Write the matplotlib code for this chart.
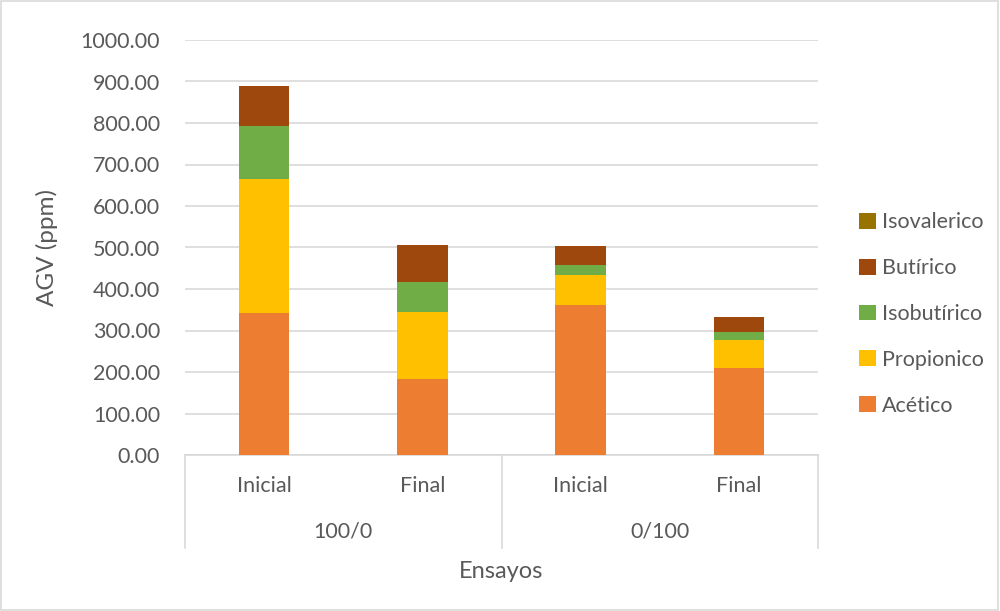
import matplotlib
matplotlib.use("Agg")
import matplotlib.pyplot as plt
from matplotlib.patches import Rectangle

plt.rcParams['font.family'] = ['Lato', 'DejaVu Sans']

# Data
sub_labels = ["Inicial", "Final", "Inicial", "Final"]
group_labels = ["100/0", "0/100"]
acetico = [342, 184, 362, 210]
propionico = [323, 161, 72, 68]
isobutirico = [127, 71, 23, 18]
butirico = [98, 91, 47, 36]
isovalerico = [0, 0, 0, 0]

series = [
    ("Acético", acetico, "#ED7D31"),
    ("Propionico", propionico, "#FFC000"),
    ("Isobutírico", isobutirico, "#70AD47"),
    ("Butírico", butirico, "#9E480E"),
    ("Isovalerico", isovalerico, "#997300"),
]

text_color = "#595959"
grid_color = "#D9D9D9"
fs = 15.5

fig = plt.figure(figsize=(10, 6.11), dpi=100)
ax = fig.add_axes([0.185, (611 - 455) / 611, 0.633, 415 / 611])

x = list(range(len(sub_labels)))
bottom = [0] * len(x)
handles = []
for name, vals, color in series:
    h = ax.bar(x, vals, width=0.32, bottom=bottom, color=color, label=name,
               zorder=3, edgecolor='none')
    handles.append(h)
    bottom = [b + v for b, v in zip(bottom, vals)]

ax.set_xlim(-0.5, 3.5)
ax.set_ylim(0, 1000)
ax.set_yticks(range(0, 1001, 100))
ax.set_yticklabels([f"{v:.2f}" for v in range(0, 1001, 100)],
                   fontsize=fs, color=text_color)
ax.yaxis.grid(True, color=grid_color, linewidth=1.2, zorder=0)
ax.tick_params(axis='y', length=0, pad=18)
ax.tick_params(axis='x', length=0)
ax.set_xticks([])
for s in ["left", "right", "top"]:
    ax.spines[s].set_visible(False)
ax.spines["bottom"].set_color(grid_color)
ax.spines["bottom"].set_linewidth(1.2)

ax.set_ylabel("AGV (ppm)", fontsize=17.5, color=text_color, labelpad=16)

# Multi-level category axis
sep_bottom = -(548 - 455) / 415
for xs in [-0.5, 1.5, 3.5]:
    ax.plot([xs, xs], [0, sep_bottom], transform=ax.get_xaxis_transform(),
            color=grid_color, linewidth=1.2, clip_on=False)
for xi, lab in zip(x, sub_labels):
    ax.text(xi, -(486 - 455) / 415, lab, transform=ax.get_xaxis_transform(),
            ha='center', va='center', fontsize=fs, color=text_color)
for gi, lab in enumerate(group_labels):
    ax.text(0.5 + 2 * gi, -(532 - 455) / 415, lab,
            transform=ax.get_xaxis_transform(),
            ha='center', va='center', fontsize=fs, color=text_color)
ax.text(1.5, -(571 - 455) / 415, "Ensayos", transform=ax.get_xaxis_transform(),
        ha='center', va='center', fontsize=17, color=text_color)

# Legend
leg = fig.legend(handles[::-1], [s[0] for s in series][::-1],
                 loc='center left', bbox_to_anchor=(0.840, (611 - 314) / 611),
                 frameon=False, fontsize=fs, labelspacing=1.2,
                 handlelength=0.75, handleheight=0.75, handletextpad=0.3)
for t in leg.get_texts():
    t.set_color(text_color)

# Chart border
fig.patches.append(Rectangle((0.001, 0.001), 0.997, 0.997, transform=fig.transFigure,
                             fill=False, edgecolor=grid_color, linewidth=1.2))

fig.savefig("out.png", dpi=100)
